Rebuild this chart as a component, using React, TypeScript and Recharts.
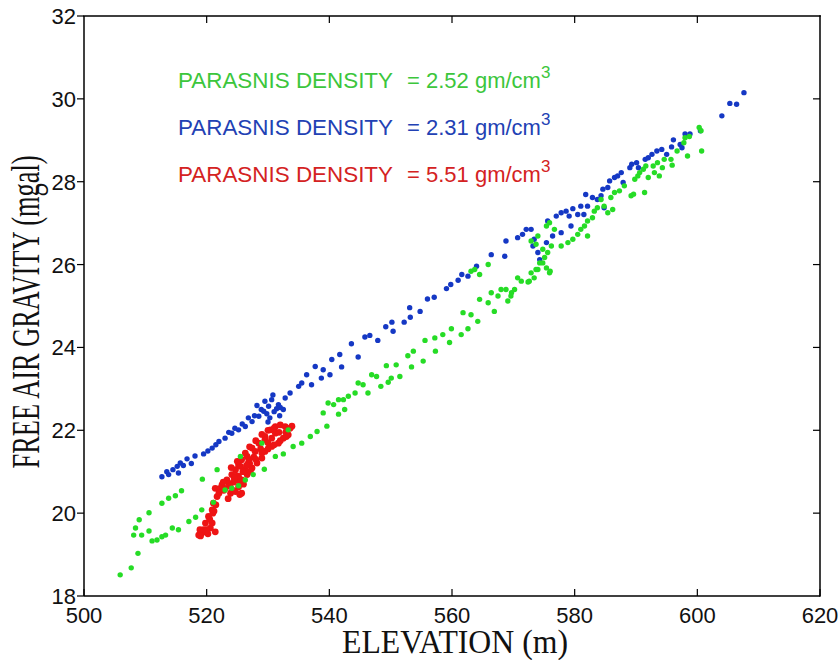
import { ScatterChart, Scatter, XAxis, YAxis } from 'recharts'

// values: elevation (m) / free air gravity (mgal)
const greenElev = [
  505.9, 507.7, 508.8, 508.1, 508.4, 509.0, 510.6, 509.4, 510.6, 511.1, 511.9, 512.7, 513.3, 514.4, 515.4,
  517.1, 518.2, 519.2, 521.1, 512.7, 513.8, 514.9, 515.9, 519.3, 521.7, 523.0, 524.1, 525.2, 526.3, 527.6,
  529.4, 531.2, 532.5, 534.1, 535.5, 536.9, 538.0, 539.6, 525.5, 529.0, 533.3, 541.5, 542.5, 539.0, 539.8,
  540.7, 541.5, 542.3, 543.1, 544.2, 544.7, 545.5, 546.3, 546.9, 547.7, 548.4, 549.3, 549.6, 550.1, 550.9,
  551.5, 552.8, 553.4, 553.7, 555.3, 555.6, 557.2, 557.3, 558.5, 559.6, 559.9, 561.5, 561.8, 562.6, 563.1,
  564.5, 564.2, 565.9, 566.4, 566.9, 567.5, 568.8, 569.1, 569.7, 570.7, 571.3, 572.4, 572.9, 574.0, 574.3,
  575.4, 576.0, 563.1, 563.7, 564.5, 565.9, 568.0, 569.6, 570.2, 572.6, 573.4, 573.7, 574.8, 575.1, 575.6,
  575.9, 576.2, 574.8, 573.7, 572.9, 574.0, 575.4, 575.9, 576.7, 577.8, 578.9, 579.7, 580.5, 581.0, 581.6,
  582.1, 582.1, 582.9, 583.2, 583.7, 584.3, 584.8, 585.4, 586.2, 585.9, 586.5, 587.3, 588.1, 589.2, 589.6,
  589.8, 590.3, 590.6, 591.2, 591.4, 591.6, 592.0, 592.8, 593.0, 593.5, 593.8, 594.3, 594.6, 595.7, 595.9,
  596.7, 597.8, 598.0, 598.4, 598.7, 600.3, 600.6, 600.7,
]
const greenGrav = [
  18.51, 18.68, 19.03, 19.47, 19.64, 19.84, 20.01, 19.47, 19.57, 19.33, 19.35, 19.43, 19.47, 19.64, 19.60,
  19.80, 19.90, 20.08, 20.26, 20.24, 20.36, 20.42, 20.54, 20.82, 21.05, 20.56, 20.60, 20.66, 20.80, 20.93,
  21.06, 21.37, 21.43, 21.61, 21.69, 21.85, 21.97, 22.10, 21.37, 21.69, 22.01, 22.39, 22.50, 22.42, 22.66,
  22.62, 22.74, 22.74, 22.82, 22.90, 23.14, 23.10, 22.90, 23.34, 23.30, 23.06, 23.56, 23.16, 23.26, 23.58,
  23.30, 23.80, 23.53, 23.91, 23.67, 24.17, 24.23, 23.91, 24.31, 24.12, 24.45, 24.31, 24.84, 24.45, 24.79,
  25.16, 24.63, 25.08, 25.32, 24.87, 25.24, 25.40, 25.12, 25.32, 25.68, 25.60, 25.58, 25.80, 25.88, 26.04,
  25.92, 25.84, 25.84, 25.88, 25.76, 26.00, 25.40, 25.24, 25.40, 25.60, 25.68, 25.88, 26.04, 26.17, 26.29,
  25.80, 26.45, 26.37, 26.49, 26.57, 26.69, 26.93, 27.01, 26.85, 26.45, 26.53, 26.61, 26.73, 26.85, 26.93,
  27.05, 26.69, 27.13, 27.29, 27.37, 27.57, 27.41, 27.25, 27.33, 27.62, 27.74, 27.78, 27.90, 27.66, 27.70,
  28.06, 28.14, 28.22, 28.30, 27.74, 28.38, 28.10, 28.38, 28.22, 28.46, 28.14, 28.34, 28.54, 28.54, 28.40,
  28.74, 28.94, 29.06, 28.62, 29.09, 29.31, 29.23, 28.74,
]

const blueElev = [
  512.7, 513.5, 513.8, 514.5, 515.2, 515.4, 515.7, 516.2, 516.8, 517.5, 518.1, 519.5, 520.2, 520.9, 521.5,
  522.0, 523.0, 523.6, 524.1, 524.6, 525.2, 525.8, 526.3, 526.8, 527.4, 527.8, 528.2, 528.5, 528.9, 529.3,
  529.5, 529.8, 530.0, 530.1, 530.3, 530.6, 530.8, 531.0, 531.4, 531.7, 531.9, 532.0, 532.5, 532.8, 533.6,
  535.0, 535.5, 536.3, 537.1, 537.7, 538.7, 539.0, 540.1, 540.4, 541.7, 542.0, 543.6, 544.7, 545.8, 546.6,
  547.9, 549.2, 550.2, 550.4, 552.2, 553.1, 553.2, 554.8, 556.0, 557.1, 559.1, 559.8, 561.0, 561.6, 562.6,
  564.0, 566.4, 568.6, 568.8, 570.7, 571.5, 572.1, 572.9, 573.4, 573.2, 574.0, 574.3, 575.4, 575.6, 576.4,
  577.0, 577.8, 577.8, 578.6, 579.1, 579.4, 579.7, 580.5, 581.0, 581.8, 581.5, 582.1, 582.9, 583.7, 584.3,
  584.6, 584.8, 585.4, 585.7, 586.5, 587.0, 587.6, 587.9, 589.0, 589.3, 590.1, 590.4, 591.5, 592.0, 592.6,
  593.4, 594.2, 595.0, 595.8, 596.1, 597.2, 597.5, 598.0, 598.8, 600.5, 604.0, 605.3, 606.4, 607.6,
]
const blueGrav = [
  20.88, 21.00, 20.93, 21.05, 21.13, 20.97, 21.21, 21.15, 21.31, 21.20, 21.38, 21.43, 21.50, 21.57, 21.65,
  21.73, 21.81, 21.95, 21.93, 22.05, 22.01, 22.15, 22.09, 22.30, 22.21, 22.35, 22.60, 22.34, 22.50, 22.46,
  22.70, 22.40, 22.20, 22.58, 22.30, 22.74, 22.85, 22.45, 22.52, 22.62, 22.35, 22.55, 22.50, 22.78, 22.90,
  23.06, 23.14, 23.34, 23.10, 23.54, 23.26, 23.46, 23.34, 23.71, 23.83, 23.53, 24.09, 23.77, 24.25, 24.29,
  24.17, 24.50, 24.61, 24.39, 24.61, 24.96, 24.73, 24.87, 25.17, 25.21, 25.42, 25.52, 25.62, 25.76, 25.72,
  25.96, 26.24, 26.20, 26.57, 26.65, 26.73, 26.85, 26.85, 26.61, 26.45, 26.29, 26.12, 26.53, 27.05, 26.69,
  27.17, 27.25, 26.77, 27.29, 27.17, 26.93, 27.35, 27.21, 27.41, 27.69, 27.21, 27.41, 27.62, 27.57, 27.66,
  27.82, 27.37, 27.86, 28.02, 28.10, 28.14, 28.22, 27.98, 28.34, 28.42, 28.46, 28.34, 28.54, 28.58, 28.66,
  28.74, 28.78, 28.66, 28.84, 29.01, 28.90, 28.82, 29.15, 29.15, 29.23, 29.59, 29.89, 29.87, 30.15,
]

const redElev = [
  518.7, 519.2, 519.8, 520.6, 519.8, 520.3, 520.9, 521.1, 521.7, 521.4, 522.2, 522.5, 523.3, 524.1, 524.7,
  525.2, 525.7, 526.3, 527.4, 528.5, 529.5, 530.4, 531.2, 532.0, 532.8, 533.6, 533.3, 532.5, 531.7, 530.6,
  529.5, 529.0, 528.2, 527.4, 526.6, 525.7, 525.2, 525.7, 524.7, 523.9, 523.0, 525.5, 526.8, 529.5, 530.6,
  531.2, 526.6, 527.9, 524.7, 523.6, 522.0, 520.9, 521.4, 525.2, 527.1, 526.3, 524.4, 525.0, 525.9, 526.0,
  526.9, 527.7, 528.8, 530.0, 531.8, 532.9, 533.9, 522.8, 523.5, 524.3, 525.4, 521.0, 520.5, 519.5, 520.2,
  518.9, 527.0, 528.0, 529.0, 530.0, 531.0, 527.0, 528.0, 529.0, 530.0, 531.0, 532.0, 533.0, 524.0, 524.5,
  523.8, 522.7, 525.5, 526.5, 525.0, 521.5, 521.2, 520.0, 519.0,
]
const redGrav = [
  19.47, 19.52, 19.55, 19.64, 19.76, 19.92, 20.08, 20.24, 20.40, 20.60, 20.60, 20.68, 20.80, 20.93, 21.05,
  21.17, 21.29, 21.45, 21.57, 21.69, 21.85, 22.01, 22.09, 22.13, 22.09, 22.05, 21.89, 21.81, 21.69, 21.61,
  21.49, 21.33, 21.21, 21.09, 20.93, 20.80, 20.64, 20.48, 20.52, 20.48, 20.60, 21.13, 21.21, 21.77, 21.81,
  21.93, 21.37, 21.49, 20.80, 20.72, 20.48, 19.76, 19.55, 20.88, 21.01, 21.05, 20.75, 20.90, 21.00, 20.70,
  21.30, 21.35, 21.55, 21.70, 21.95, 21.95, 22.10, 20.55, 20.35, 20.55, 20.45, 20.00, 19.85, 19.60, 19.50,
  19.60, 21.60, 21.75, 21.90, 22.00, 22.05, 21.20, 21.30, 21.45, 21.55, 21.65, 21.75, 21.85, 21.10, 20.85,
  20.65, 20.75, 20.75, 21.15, 21.25, 20.20, 20.05, 19.60, 19.45,
]

const elevTicks = [500, 520, 540, 560, 580, 600, 620]
const gravTicks = [18, 20, 22, 24, 26, 28, 30, 32]

const notes = [
  { text: 'PARASNIS DENSITY', value: '= 2.52 gm/cm', color: '#3cc63c' },
  { text: 'PARASNIS DENSITY', value: '= 2.31 gm/cm', color: '#2241b4' },
  { text: 'PARASNIS DENSITY', value: '= 5.51 gm/cm', color: '#d42222' },
]

const toPoints = (xs: number[], ys: number[]) => xs.map((x, i) => ({ x, y: ys[i] }))

const greenData = toPoints(greenElev, greenGrav)
const blueData = toPoints(blueElev, blueGrav)
const redData = toPoints(redElev, redGrav)

const X_MIN = 500
const X_MAX = 620
const Y_MIN = 18
const Y_MAX = 32

// chart geometry (plot area follows from these)
const W = 840
const H = 660
const M_TOP = 16
const M_RIGHT = 20
const Y_AXIS_W = 84
const X_AXIS_H = 64
const plotL = Y_AXIS_W
const plotR = W - M_RIGHT
const plotT = M_TOP
const plotB = H - X_AXIS_H
const px = (v: number) => plotL + ((v - X_MIN) / (X_MAX - X_MIN)) * (plotR - plotL)
const py = (v: number) => plotB - ((v - Y_MIN) / (Y_MAX - Y_MIN)) * (plotB - plotT)

const tickFont = { fontFamily: '"Liberation Sans", Arial, sans-serif', fontSize: 22, fill: '#111' }

function BottomTick(props: any) {
  const { x, y, payload } = props
  return (
    <g>
      <rect x={x - 0.6} y={y - 7} width={1.2} height={7} fill="#000" />
      <text x={x} y={y + 27} textAnchor="middle" {...tickFont}>{payload.value}</text>
    </g>
  )
}

function LeftTick(props: any) {
  const { x, y, payload } = props
  return (
    <g>
      <rect x={x - 7} y={y - 0.6} width={7} height={1.2} fill="#000" />
      <text x={x - 8} y={y + 8} textAnchor="end" {...tickFont}>{payload.value}</text>
    </g>
  )
}

const dot = (color: string, r: number) => (props: any) =>
  <circle cx={props.cx} cy={props.cy} r={r} fill={color} />

export default function App() {
  return (
    <div style={{ position: 'relative', width: W, height: H, background: '#fff' }}>
      <style>{'body{margin:0}'}</style>
      <ScatterChart width={W} height={H} margin={{ top: M_TOP, right: M_RIGHT, left: 0, bottom: 0 }}>
        <XAxis
          type="number"
          dataKey="x"
          domain={[X_MIN, X_MAX]}
          ticks={elevTicks}
          interval={0}
          height={X_AXIS_H}
          tickSize={0}
          tickMargin={0}
          tickLine={false}
          tick={BottomTick}
          axisLine={{ stroke: '#000', strokeWidth: 1.5 }}
        />
        <YAxis
          type="number"
          dataKey="y"
          domain={[Y_MIN, Y_MAX]}
          ticks={gravTicks}
          interval={0}
          width={Y_AXIS_W}
          tickSize={0}
          tickMargin={0}
          tickLine={false}
          tick={LeftTick}
          axisLine={{ stroke: '#000', strokeWidth: 1.5 }}
        />
        <Scatter data={blueData} shape={dot('#1538c4', 2.7)} isAnimationActive={false} />
        <Scatter data={redData} shape={dot('#ee1414', 3.4)} isAnimationActive={false} />
        <Scatter data={greenData} shape={dot('#26dc26', 2.7)} isAnimationActive={false} />
      </ScatterChart>

      <svg width={W} height={H} style={{ position: 'absolute', left: 0, top: 0, pointerEvents: 'none' }}>
        {/* top and right sides of the box, drawn as thin filled bars, with inward ticks */}
        <g fill="#000">
          <rect x={plotL - 0.75} y={plotT - 0.75} width={plotR - plotL + 1.5} height={1.5} />
          <rect x={plotR - 0.75} y={plotT - 0.75} width={1.5} height={plotB - plotT + 1.5} />
          {elevTicks.slice(1, -1).map((t) => (
            <rect key={'tx' + t} x={px(t) - 0.6} y={plotT} width={1.2} height={7} />
          ))}
          {gravTicks.slice(1, -1).map((t) => (
            <rect key={'ty' + t} x={plotR - 7} y={py(t) - 0.6} width={7} height={1.2} />
          ))}
        </g>

        {notes.map((n, i) => (
          <g key={i} fill={n.color} fontFamily='"Liberation Sans", Arial, sans-serif' fontSize={22}>
            <text x={178} y={88 + i * 47} textLength={215} lengthAdjust="spacingAndGlyphs">{n.text}</text>
            <text x={407} y={88 + i * 47}>
              {n.value}
              <tspan dy={-10} fontSize={17}>3</tspan>
            </text>
          </g>
        ))}
        <text
          x={455}
          y={653}
          textAnchor="middle"
          fontFamily='"Liberation Serif", "Times New Roman", serif'
          fontSize={33}
          textLength={226}
          lengthAdjust="spacingAndGlyphs"
          fill="#111"
        >
          ELEVATION (m)
        </text>
        <text
          transform="translate(39,312) rotate(-90)"
          textAnchor="middle"
          fontFamily='"Liberation Serif", "Times New Roman", serif'
          fontSize={39}
          textLength={313}
          lengthAdjust="spacingAndGlyphs"
          fill="#111"
        >
          FREE AIR GRAVITY (mgal)
        </text>
      </svg>
    </div>
  )
}
